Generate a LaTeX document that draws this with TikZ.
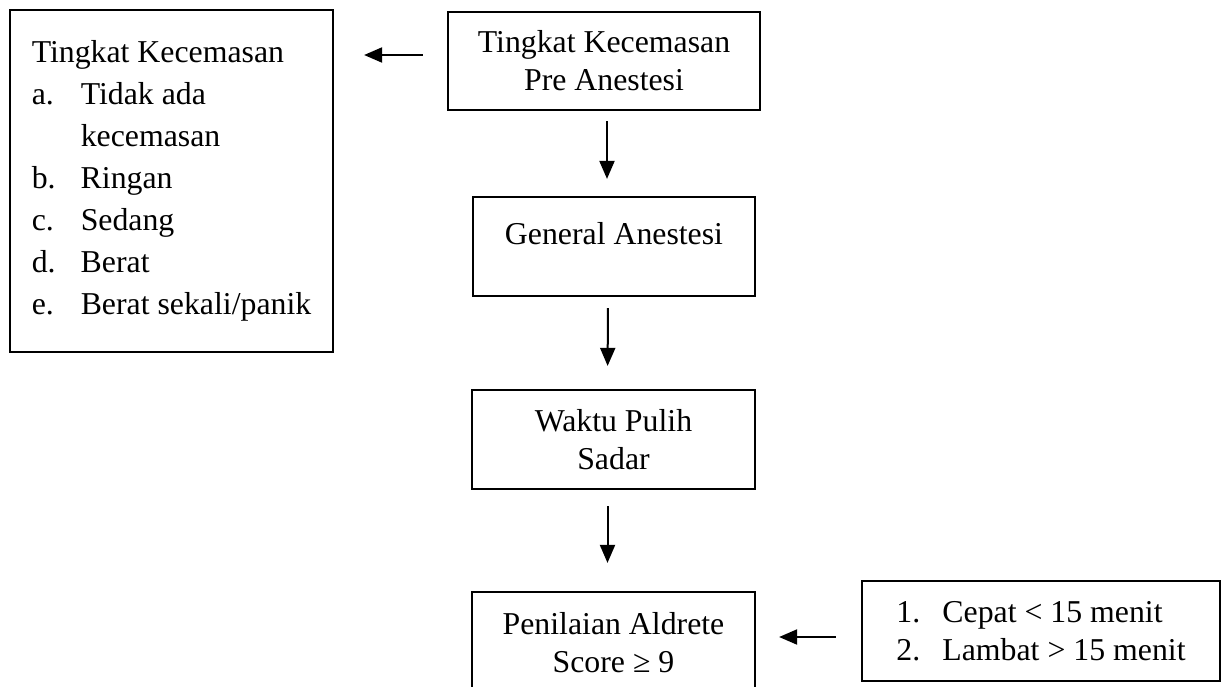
\documentclass[tikz,border=0pt]{standalone}
\usepackage{fontspec}
\setmainfont{Liberation Serif}
\usetikzlibrary{arrows.meta,calc}
\tikzstyle{box}=[rectangle,draw,line width=1.1pt,inner sep=0pt,align=center,font=\fontsize{15.9}{19}\selectfont]
\tikzstyle{listbox}=[box,align=left,font=\fontsize{15.9}{21}\selectfont]
\tikzstyle{arrow}=[draw,line width=1pt,-{Triangle[length=9pt,width=7.5pt]}]
\newcommand{\lbl}[2][24.5pt]{\makebox[#1][l]{#2}}

\begin{document}
\begin{tikzpicture}[x=0.5pt,y=-0.5pt]
\useasboundingbox (0,0) rectangle (1221,686);

    % boxes
    \node[listbox,minimum width=161.5pt,minimum height=171pt] (tingkat) at (171.5,181)
        {Tingkat Kecemasan\\ \lbl{a.}Tidak ada\\ \lbl{}kecemasan\\ \lbl{b.}Ringan\\ \lbl{c.}Sedang\\ \lbl{d.}Berat\\ \lbl{e.}Berat sekali/panik};
    \node[box,minimum width=156pt,minimum height=49pt] (pre) at (604,61) {Tingkat Kecemasan\\Pre Anestesi};
    \node[box,minimum width=141pt,minimum height=49.5pt] (general) at (614,246.5) {General Anestesi\\[-6pt]\mbox{}};
    \node[box,minimum width=141.5pt,minimum height=49.5pt] (waktu) at (613.5,439.5) {Waktu Pulih\\Sadar};
    \node[box,minimum width=141.5pt,minimum height=50.5pt] (score) at (613.5,642.5) {Penilaian Aldrete\\Score ≥ 9};
    \node[box,align=left,minimum width=179pt,minimum height=50pt] (waktupulih) at (1041,631)
        {\lbl[23pt]{1.}Cepat < 15 menit\\ \lbl[23pt]{2.}Lambat > 15 menit};

    % arrows
    \draw[arrow,shorten <=12pt,shorten >=15pt] ([yshift=3pt]pre.west) -- ([yshift=3pt]tingkat.east |- pre.west);
    \draw[arrow,shorten <=5pt,shorten >=8.5pt] ([xshift=1.5pt]pre.south) -- ([xshift=1.5pt]pre.south |- general.north);
    \foreach \source/ \dest/\a/\b in {general/waktu/5.5pt/11.5pt, waktu/score/8pt/14pt}
        \draw[arrow,shorten <=\a,shorten >=\b] ([xshift=-3pt]\source.south) -- ([xshift=-3pt]\dest.north);
    \draw[arrow,shorten <=12.5pt,shorten >=11.5pt] ([yshift=-3pt]waktupulih.west) -- ([yshift=-3pt]score.east |- waktupulih.west);

\end{tikzpicture}
\end{document}
